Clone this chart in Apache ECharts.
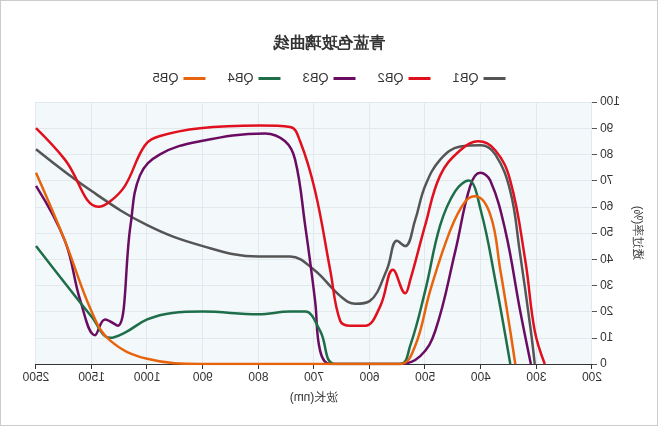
<!DOCTYPE html>
<html><head><meta charset="utf-8">
<script src="https://cdn.jsdelivr.net/npm/echarts@6/dist/echarts.min.js"></script>
<style>html,body{margin:0;padding:0;background:#fff}#c{width:656px;height:424px;border:1px solid #ccc;transform:scaleX(-1)}</style>
</head><body><div id="c"></div>
<script>
const tickLabels=[200,300,400,500,600,700,800,900,1000,1500,2500];
const names=['QB1','QB2','QB3','QB4','QB5'];
const colors=['#555555','#e0101e','#6a0d62','#1e6e4a','#e8640c'];
const qb1=[[2500,82],[1500,66],[1000,53],[900,45],[800,41],[743,41],[700,36],[653,26],[626,23],[600,24],[569,36],[551,47],[536,45],[518,55],[500,68],[473,78],[437,83],[400,83.5],[374,80],[347,66],[330,43],[310,12.6],[303,0]];
const qb2=[[2500,90],[1980,78],[1440,60],[1335,62],[1200,68],[1020,83.5],[977,87],[905,90],[797,91],[743,90.5],[725,85],[698,66],[671,36],[653,16.5],[635,14.6],[608,14.6],[581,22],[558,36],[536,27],[527,32],[500,53],[473,72],[437,81.6],[405,85],[374,81.6],[347,70],[320,39.5],[303,12.6],[285,0]];
const qb3=[[2500,68],[1980,47],[1700,24],[1470,11],[1380,17],[1265,14.6],[1150,53],[1065,72],[977,80],[905,85],[788,88],[752,85],[734,78],[716,53],[698,24],[689,5],[671,0],[545,0],[509,3],[482,12.6],[446,43],[419,68],[401,73],[383,70],[356,51],[329,20],[310,0]];
const qb4=[[2500,45],[1500,18],[1335,10],[1200,12],[1000,17],[955,19.5],[900,20],[800,19],[743,20],[716,20],[689,12.6],[662,0],[545,0],[527,7],[500,28],[473,53],[446,66],[422,70],[400,58.6],[374,32],[347,0]];
const qb5=[[2500,73],[1980,47],[1500,20],[1335,9],[1000,2],[900,0],[545,0],[518,7],[491,28],[455,51],[428,62],[410,64],[383,57],[365,36],[347,12.6],[338,0]];
function idx(w){for(let i=0;i<tickLabels.length-1;i++){if(w<=tickLabels[i+1])return i+(w-tickLabels[i])/(tickLabels[i+1]-tickLabels[i]);}return tickLabels.length-1;}
const all=[qb1,qb2,qb3,qb4,qb5];
const chart=echarts.init(document.getElementById('c'));
chart.setOption({
 title:{text:'青蓝色玻璃曲线',left:'center',top:30,textStyle:{fontSize:16,fontWeight:'bold',color:'#333'}},
 legend:{top:66,data:names,itemWidth:22,itemHeight:3,itemGap:22,textStyle:{fontSize:13,color:'#333'},icon:'rect'},
 grid:{left:65,right:35,top:101,bottom:61,show:true,backgroundColor:'#f3f8fb',borderWidth:0},
 xAxis:{type:'value',min:0,max:10,interval:1,name:'波长(nm)',nameLocation:'middle',nameGap:28,nameTextStyle:{color:'#333',fontSize:12},
  axisLabel:{formatter:v=>tickLabels[Math.round(v)],color:'#333',fontSize:12},axisLine:{lineStyle:{color:'#333'}},axisTick:{show:true},splitLine:{lineStyle:{color:'#e3e8ec'}}},
 yAxis:{type:'value',min:0,max:100,interval:10,name:'透过率(%)',nameLocation:'middle',nameGap:36,nameRotate:90,nameTextStyle:{color:'#333',fontSize:12},
  axisLabel:{color:'#333',fontSize:12},axisLine:{show:false},splitLine:{lineStyle:{color:'#e3e8ec'}}},
 series:all.map((d,i)=>({name:names[i],type:'line',smooth:0.4,showSymbol:false,lineStyle:{width:2.5,color:colors[i]},itemStyle:{color:colors[i]},data:d.map(p=>[idx(p[0]),p[1]])}))
});
</script></body></html>
